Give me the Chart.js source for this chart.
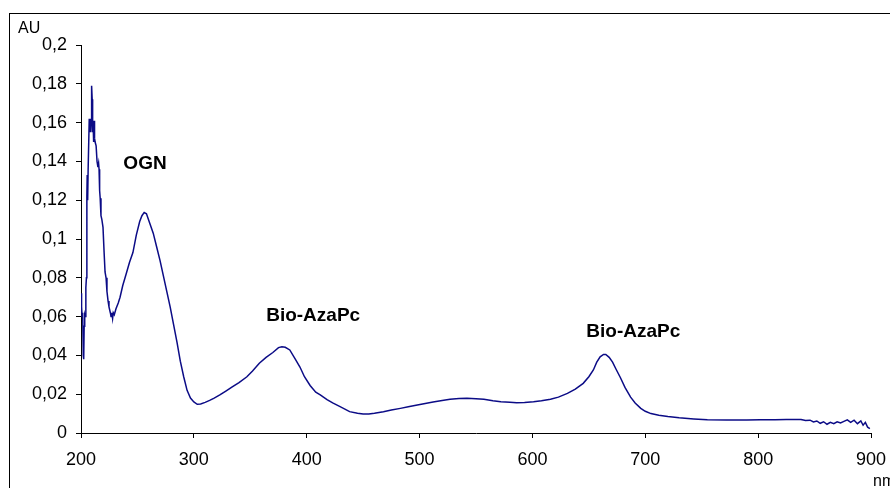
<!DOCTYPE html>
<html>
<head>
<meta charset="utf-8">
<script src="https://cdn.jsdelivr.net/npm/chart.js@4.4.1/dist/chart.umd.min.js"></script>
<style>
  html, body { margin: 0; padding: 0; background: #fff; }
  canvas { display: block; }
</style>
</head>
<body>
<canvas id="spectrum" width="890" height="488"></canvas>
<script>
// Wavelength (nm) and absorbance (AU)
const wavelengths = [
  200, 200.5, 201, 201.5, 202, 202.4, 202.8, 203.3, 203.8, 204.3, 204.8, 205.2, 205.5, 205.9,
  206.3, 206.8, 207.3, 207.7, 208.1, 208.6, 209, 209.4, 209.9, 210.3, 210.7, 211.2, 211.6, 212,
  212.5, 213.4, 214.2, 215, 215.6, 216, 216.5, 217, 217.7, 218.5, 219.5, 220.4, 221.3, 222.2,
  223, 224, 224.8, 226, 226.6, 227.3, 228, 228.6, 229.5, 231, 233, 234.6, 237, 240, 243, 246,
  249, 252, 254, 256, 258, 261, 264, 267, 270, 273, 276, 279, 282, 285, 288, 291, 294, 297,
  300, 303, 306, 310, 314, 318, 323, 328, 334, 340, 347, 352, 358, 364, 370, 375, 378, 381,
  385, 390, 394, 398, 403, 408, 412, 418, 423, 430, 438, 445, 450, 455, 460, 468, 475, 483,
  490, 498, 505, 512, 520, 527, 535, 542, 550, 557, 565, 572, 580, 586, 593, 601, 608, 616,
  623, 631, 638, 645, 650, 654, 657, 660, 663, 665, 668, 671, 674, 678, 682, 687, 691, 696,
  700, 705, 712, 720, 730, 743, 755, 772, 790, 802, 815, 825, 832, 838, 842, 846, 849, 852,
  855, 858, 861, 864, 867, 870, 873, 876, 879, 882, 885, 888, 891, 893, 895, 897, 899
];
const absorbance = [
  0.072, 0.065, 0.060, 0.062, 0.040, 0.038, 0.055, 0.061, 0.060, 0.075, 0.080, 0.122, 0.133, 0.120,
  0.135, 0.135, 0.162, 0.155, 0.162, 0.155, 0.160, 0.179, 0.172, 0.155, 0.160, 0.150, 0.161, 0.152,
  0.150, 0.148, 0.140, 0.137, 0.139, 0.136, 0.125, 0.121, 0.112, 0.110, 0.106, 0.094, 0.083, 0.080,
  0.073, 0.068, 0.065, 0.062, 0.060, 0.062, 0.059, 0.062, 0.061, 0.064, 0.067, 0.070, 0.076, 0.082, 0.088, 0.093,
  0.102, 0.109, 0.112, 0.1137, 0.113, 0.108, 0.103, 0.096, 0.089, 0.081, 0.073, 0.065, 0.056, 0.047, 0.037, 0.029, 0.022, 0.018,
  0.016, 0.0148, 0.015, 0.0158, 0.0168, 0.018, 0.0196, 0.0215, 0.0238, 0.026, 0.029, 0.032, 0.036, 0.039, 0.0415, 0.044, 0.0445, 0.0442,
  0.0428, 0.038, 0.034, 0.029, 0.0245, 0.021, 0.0196, 0.0172, 0.0155, 0.0135, 0.011, 0.0102, 0.0098, 0.0098, 0.0102, 0.011, 0.0118, 0.0127,
  0.0135, 0.0144, 0.0152, 0.016, 0.0168, 0.0174, 0.0178, 0.0179, 0.0177, 0.0174, 0.0166, 0.0161, 0.0158, 0.0156, 0.0157, 0.0161, 0.0166, 0.0174,
  0.0185, 0.0204, 0.0226, 0.0256, 0.029, 0.0325, 0.0365, 0.0393, 0.0405, 0.0405, 0.039, 0.0365, 0.033, 0.0285, 0.0235, 0.0185, 0.0155, 0.0127,
  0.0112, 0.0100, 0.0092, 0.0085, 0.0078, 0.0072, 0.0068, 0.0067, 0.0067, 0.0068, 0.0068, 0.0070, 0.0069, 0.0070, 0.0064, 0.0066, 0.0057, 0.0062,
  0.0050, 0.0058, 0.0045, 0.0055, 0.0048, 0.0058, 0.0052, 0.0060, 0.0068, 0.0055, 0.0066, 0.0048, 0.0062, 0.0040, 0.0055, 0.0030, 0.0022
];

// Peak labels, anchored in data units (nm, AU)
const peakNames = ['OGN', 'Bio-AzaPc', 'Bio-AzaPc'];
const peakAnchorNm = [256.7, 405.7, 689.4];
const peakAnchorAu = [0.1387, 0.0603, 0.0523];

const FONT = "'Liberation Sans', Arial, sans-serif";

const points = wavelengths.map((w, i) => ({ x: w, y: absorbance[i] }));

// Labels, axis titles and the outer frame
const decorations = {
  id: 'decorations',
  beforeDraw(chart) {
    const ctx = chart.ctx;
    ctx.save();
    ctx.fillStyle = '#fff';
    ctx.fillRect(0, 0, chart.width, chart.height);
    ctx.strokeStyle = '#000';
    ctx.lineWidth = 1;
    ctx.strokeRect(9.5, 13.5, 900, 600);
    ctx.restore();
  },
  afterDraw(chart) {
    const ctx = chart.ctx;
    const xs = chart.scales.x;
    const ys = chart.scales.y;
    ctx.save();
    ctx.fillStyle = '#000';
    ctx.font = 'bold 19px ' + FONT;
    ctx.textAlign = 'center';
    ctx.textBaseline = 'middle';
    peakNames.forEach((name, i) => {
      ctx.fillText(name, xs.getPixelForValue(peakAnchorNm[i]), ys.getPixelForValue(peakAnchorAu[i]));
    });
    ctx.font = '16px ' + FONT;
    ctx.textAlign = 'left';
    ctx.textBaseline = 'alphabetic';
    ctx.fillText('AU', 18, 33);
    ctx.fillText('nm', 873, 486);
    ctx.restore();
  }
};

new Chart(document.getElementById('spectrum'), {
  type: 'line',
  plugins: [decorations],
  data: {
    datasets: [{
      data: points,
      borderColor: '#0b0b86',
      borderWidth: 1.5,
      pointRadius: 0,
      tension: 0,
      fill: false
    }]
  },
  options: {
    responsive: false,
    animation: false,
    layout: { padding: { left: 0, right: 19, top: 45, bottom: 0 } },
    plugins: {
      legend: { display: false },
      tooltip: { enabled: false }
    },
    scales: {
      x: {
        type: 'linear',
        min: 200,
        max: 900,
        afterFit: (scale) => {
          scale.height = 55;
          scale.paddingRight = 0;
          scale.paddingLeft = 0;
        },
        grid: { drawOnChartArea: false, drawTicks: true, tickLength: 5, color: '#000' },
        border: { color: '#000', width: 1 },
        ticks: {
          stepSize: 100,
          padding: 11,
          color: '#000',
          font: { family: FONT, size: 18 },
          maxRotation: 0
        }
      },
      y: {
        min: 0,
        max: 0.2,
        afterFit: (scale) => {
          scale.width = 81;
          scale.paddingTop = 0;
          scale.paddingBottom = 0;
        },
        grid: { drawOnChartArea: false, drawTicks: true, tickLength: 5, color: '#000' },
        border: { color: '#000', width: 1 },
        ticks: {
          stepSize: 0.02,
          padding: 9,
          color: '#000',
          font: { family: FONT, size: 18 },
          callback: (v) => String(Number(v.toFixed(2))).replace('.', ',')
        }
      }
    }
  }
});
</script>
</body>
</html>
